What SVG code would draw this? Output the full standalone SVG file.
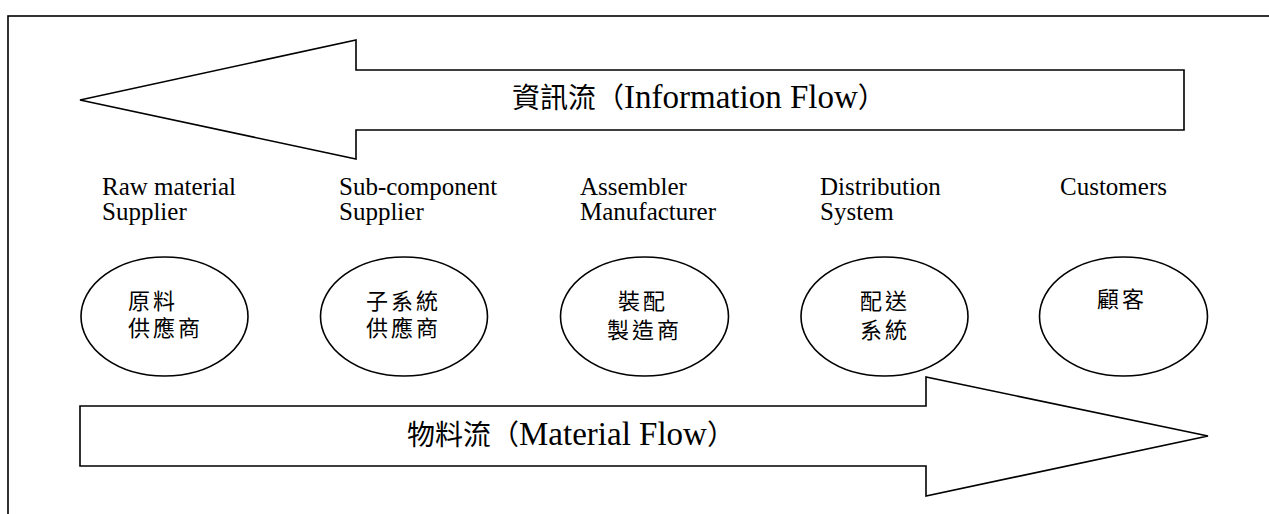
<svg xmlns="http://www.w3.org/2000/svg" width="1269" height="514" viewBox="0 0 1269 514">
<style>
.shape{fill:#fff;stroke:#000;stroke-width:1.6}
.en{font-family:"Liberation Serif","Times New Roman",serif;font-size:25px;fill:#000}
.zh{font-family:"Liberation Serif","Noto Sans CJK TC",serif;font-size:22px;letter-spacing:3px;fill:#000}
.flow{font-family:"Liberation Serif","Noto Sans CJK TC",serif;font-size:28px;fill:#000}
.flow .lat{font-size:33px}
</style>
<rect x="0" y="0" width="1269" height="514" fill="#fff"/>
<rect x="8" y="16" width="1300" height="600" fill="none" stroke="#000" stroke-width="1.6"/>
<g id="connectors">
  <g id="info-flow">
    <polygon class="shape" points="80,100 356,40 356,70 1184,70 1184,130 356,130 356,159"/>
    <text class="flow" x="512" y="108">資訊流（<tspan class="lat">Information Flow</tspan>）</text>
  </g>
  <g id="material-flow">
    <polygon class="shape" points="80,406 926,406 926,377 1208,436 926,496 926,466 80,466"/>
    <text class="flow" x="407" y="445">物料流（<tspan class="lat">Material Flow</tspan>）</text>
  </g>
</g>
<g id="raw-supplier">
  <text class="en" x="102" y="195">Raw material</text>
  <text class="en" x="102" y="220">Supplier</text>
  <ellipse class="shape" cx="164.5" cy="316.5" rx="83.5" ry="59.5"/>
  <text class="zh" x="128" y="309">原料</text>
  <text class="zh" x="128" y="336">供應商</text>
</g>
<g id="sub-supplier">
  <text class="en" x="339" y="195">Sub-component</text>
  <text class="en" x="339" y="220">Supplier</text>
  <ellipse class="shape" cx="404" cy="316.5" rx="83.5" ry="59.5"/>
  <text class="zh" x="366" y="309">子系統</text>
  <text class="zh" x="366" y="336">供應商</text>
</g>
<g id="assembler">
  <text class="en" x="580" y="195">Assembler</text>
  <text class="en" x="580" y="220">Manufacturer</text>
  <ellipse class="shape" cx="644.5" cy="316.5" rx="84" ry="59.5"/>
  <text class="zh" x="618" y="309">裝配</text>
  <text class="zh" x="607" y="338">製造商</text>
</g>
<g id="distribution">
  <text class="en" x="820" y="195">Distribution</text>
  <text class="en" x="820" y="220">System</text>
  <ellipse class="shape" cx="884.5" cy="316.5" rx="83.5" ry="59.5"/>
  <text class="zh" x="860" y="309">配送</text>
  <text class="zh" x="860" y="338">系統</text>
</g>
<g id="customers">
  <text class="en" x="1060" y="195">Customers</text>
  <ellipse class="shape" cx="1123.5" cy="316.5" rx="84" ry="59.5"/>
  <text class="zh" x="1097" y="307">顧客</text>
</g>
</svg>
